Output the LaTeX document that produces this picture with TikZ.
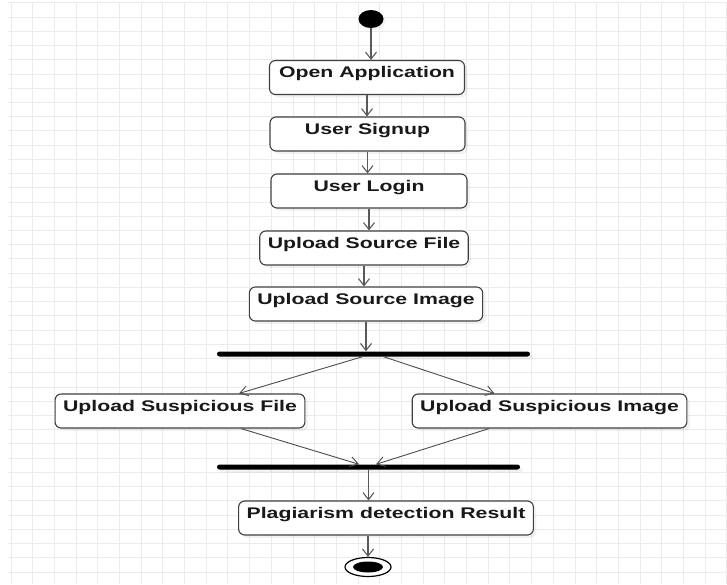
\documentclass[tikz,border=0pt]{standalone}
\usepackage{fontspec}
\newfontfamily\actfont{Liberation Sans}[FakeStretch=1.38]
\usetikzlibrary{arrows.meta,shapes.geometric,shadows}

\begin{document}
\begin{tikzpicture}[x=1pt,y=-1pt,
    gridline/.style={draw=black!8, line width=0.9pt},
    act/.style={draw=black!75, line width=1.1pt, rounded corners=6pt, fill=white,
      inner xsep=8pt, inner ysep=0pt, text height=17pt, text depth=17pt,
      font=\actfont\bfseries\fontsize{15.4}{18}\selectfont, text=black!90,
      drop shadow={shadow xshift=3pt, shadow yshift=-3pt, opacity=0.1}},
    bar/.style={fill=black, rounded corners=2.5pt, minimum height=5pt, inner sep=0pt,
      drop shadow={shadow xshift=3pt, shadow yshift=-3pt, opacity=0.1}},
    flow/.style={draw=black!65, line width=1.1pt, -{Straight Barb[length=7pt,width=11pt]}},
    branch/.style={draw=black!70, line width=0.9pt, -{Straight Barb[length=8pt,width=10pt]}}]
        \useasboundingbox (0,0) rectangle (727,584);
        % mrizka
        \foreach \i in {0,...,33}
            \draw[gridline] ({11+21.69*\i},3) -- ({11+21.69*\i},584);
        \foreach \j in {0,...,40}
            \draw[gridline] (8,{2.8+14.23*\j}) -- (727,{2.8+14.23*\j});

        % pocatecni uzel
        \node[ellipse, fill=black, minimum width=25pt, minimum height=18pt, inner sep=0pt,
            drop shadow={shadow xshift=2pt, shadow yshift=-2pt, opacity=0.1}] (start) at (371,19) {};

        % aktivity
        \node[act, minimum width=195pt] (open) at (367,77.5) {Open Application};
        \node[act, minimum width=195pt] (signup) at (367.5,134) {User Signup};
        \node[act, minimum width=196pt] (login) at (369,191) {User Login};
        \node[act] (srcfile) at (364,248) {Upload Source File};
        \node[act] (srcimage) at (366,304) {Upload Source Image};

        % rozdeleni
        \node[bar, minimum width=313pt] (fork) at (373.5,354) {};
        \node[act] (susfile) at (180,411) {Upload Suspicious File};
        \node[act] (susimage) at (549.5,411) {Upload Suspicious Image};

        % spojeni
        \node[bar, minimum width=303pt] (join) at (368.5,467) {};
        \node[act] (result) at (386,518) {Plagiarism detection Result};

        % koncovy uzel
        \node[ellipse, draw=black, line width=1.2pt, fill=white, minimum width=46pt,
            minimum height=19pt, inner sep=0pt] (final) at (368,567) {};
        \node[ellipse, fill=black, minimum width=30pt, minimum height=11pt, inner sep=0pt]
            (finaldot) at (final) {};

        % prechody
        \draw[flow] (start) -- (start |- open.north);
        \draw[flow] (open.south) -- (open.south |- signup.north);
        \draw[flow] (signup.south) -- (signup.south |- login.north);
        \draw[flow] (login.south) -- (login.south |- srcfile.north);
        \draw[flow] (srcfile.south) -- (srcfile.south |- srcimage.north);
        \draw[flow] (srcimage.south) -- (srcimage.south |- fork.north);
        \draw[branch] ([xshift=-11pt]fork.south) -- ([xshift=59pt]susfile.north);
        \draw[branch] ([xshift=10pt]fork.south) -- ([xshift=-55pt]susimage.north);
        \draw[branch] ([xshift=61pt]susfile.south) -- ([xshift=-9.5pt]join.north);
        \draw[branch] ([xshift=-60.5pt]susimage.south) -- ([xshift=7.5pt]join.north);
        \draw[flow] (join.south) -- (join.south |- result.north);
        \draw[flow] (result.south -| final) -- (final.north);
\end{tikzpicture}
\end{document}
